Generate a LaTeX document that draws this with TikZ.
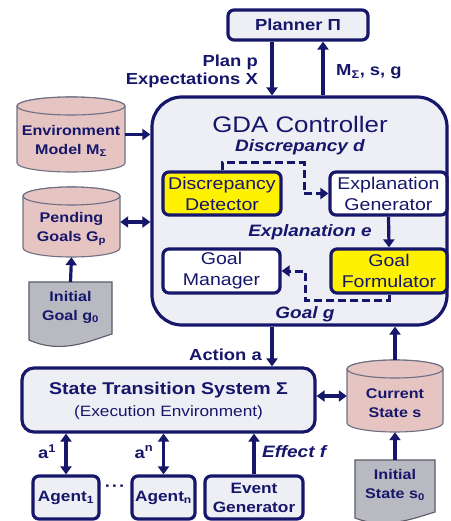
\documentclass[tikz,border=0pt]{standalone}
\usepackage{fontspec}
\setmainfont{Liberation Sans}[FakeStretch=1.15]
\usetikzlibrary{arrows.meta,calc}
\definecolor{navy}{HTML}{16166A}
\definecolor{boxfill}{HTML}{EEEFF5}
\definecolor{yell}{HTML}{FFF200}
\definecolor{pink}{HTML}{E6C4C1}
\definecolor{cylborder}{HTML}{6E6E84}
\definecolor{docfill}{HTML}{B9B9C2}
\definecolor{docborder}{HTML}{5A5A6A}
\tikzset{
  box/.style={draw=navy, line width=3.2pt, fill=boxfill, rounded corners=6pt, text=navy, align=center, inner sep=0pt},
  ybox/.style={box, fill=yell, font=\fontsize{17}{21}\selectfont},
  wbox/.style={box, fill=white, font=\fontsize{17}{21}\selectfont},
  lbl/.style={text=navy, font=\fontsize{16}{19}\selectfont\bfseries, inner sep=0pt},
  ilbl/.style={text=navy, font=\fontsize{16.5}{19}\selectfont\bfseries\itshape, inner sep=0pt},
  cylarea/.style={inner sep=0pt},
  cylstyle/.style={draw=cylborder, line width=1.1pt, fill=pink},
  dtext/.style={text=navy, align=center, font=\fontsize{14}{19}\selectfont\bfseries, inner sep=0pt},
  docshape/.style={draw=docborder, line width=1.1pt, fill=docfill},
  arr/.style={draw=navy, line width=3.2pt, -{Triangle[width=11pt,length=8pt]}},
  darr/.style={draw=navy, line width=3.2pt, {Triangle[width=11pt,length=8pt]}-{Triangle[width=11pt,length=8pt]}},
  dasharr/.style={draw=navy, line width=3pt, dash pattern=on 8pt off 4pt, -{Triangle[width=11pt,length=8pt]}},
}
\newcommand{\drawcyl}[5]{%
  \pgfmathsetmacro\cylcx{(#1+#3)/2}%
  \pgfmathsetmacro\cylrx{(#3-#1)/2}%
  \path[cylstyle] (#1,#2+#5) -- (#1,#4-#5) arc[start angle=180,end angle=0,x radius=\cylrx,y radius=#5] -- (#3,#2+#5) arc[start angle=0,end angle=-180,x radius=\cylrx,y radius=#5] -- cycle;
  \path[cylstyle] (\cylcx,#2+#5) ellipse[x radius=\cylrx, y radius=#5];
}
\begin{document}
\begin{tikzpicture}[x=1pt,y=-1pt]
\useasboundingbox (0,0) rectangle (450,521);
% Planner
\node[box, minimum width=140pt, minimum height=30pt, font=\fontsize{16}{19}\selectfont\bfseries] (planner) at (298,25) {Planner Π};
% Controller
\node[box, rounded corners=30pt, minimum width=295pt, minimum height=228pt] (ctrl) at (299.5,211) {};
\node[text=navy, font=\fontsize{22.5}{26}\selectfont, inner sep=0pt] (title) at (300,124) {GDA Controller};
\node[ilbl] (discd) at (300,147) {Discrepancy d};
\node[ybox, minimum width=118pt, minimum height=43pt] (dd) at (222,193.5) {Discrepancy\\Detector};
\node[wbox, minimum width=117pt, minimum height=43pt] (exg) at (388.5,193.5) {Explanation\\Generator};
\node[ilbl] (expe) at (310,232) {Explanation e};
\node[wbox, minimum width=117pt, minimum height=44pt] (gm) at (221.5,271) {Goal\\Manager};
\node[ybox, minimum width=116pt, minimum height=44pt] (gf) at (389,271) {Goal\\Formulator};
\node[ilbl] (goalg) at (305,314) {Goal g};
% Left cylinders
\drawcyl{17}{97}{125}{172}{9}
\node[cylarea, minimum width=108pt, minimum height=75pt] (env) at (71,134.5) {};
\node[dtext] (envt) at (71,141) {Environment\\Model M\textsubscript{Σ}};
\drawcyl{23}{187}{120}{257}{9}
\node[cylarea, minimum width=97pt, minimum height=70pt] (pend) at (71.5,222) {};
\node[dtext] (pendt) at (71.5,229) {Pending\\Goals G\textsubscript{p}};
% Initial goal document
\path[docshape] (29,282) -- (112,282) -- (112,334) .. controls (92,340) and (62,355) .. (29,340) -- cycle;
\node[dtext] (ig) at (70.5,307) {Initial\\Goal g\textsubscript{0}};
\coordinate (igtop) at (70.5,282);
% STS
\node[box, rounded corners=12pt, minimum width=293pt, minimum height=64pt] (sts) at (168.5,400) {};
\node[text=navy, font=\fontsize{17}{20}\selectfont\bfseries, inner sep=0pt] (stst) at (168.5,390) {State Transition System Σ};
\node[text=navy, font=\fontsize{15}{18}\selectfont, inner sep=0pt] (stse) at (168.5,413) {(Execution Environment)};
% Current state
\drawcyl{347}{360}{443}{432}{9}
\node[cylarea, minimum width=96pt, minimum height=72pt] (cs) at (395,396) {};
\node[dtext] (cst) at (395,403) {Current\\State s};
% Initial state doc
\path[docshape] (355,460) -- (435,460) -- (435,512) .. controls (415,518) and (385,530) .. (355,518) -- cycle;
\node[dtext] (is) at (395,485) {Initial\\State s\textsubscript{0}};
\coordinate (istop) at (395,460);
% Agents
\node[box, minimum width=66pt, minimum height=43pt, font=\fontsize{15}{18}\selectfont\bfseries] (a1) at (66,497.5) {Agent\textsubscript{1}};
\node[box, minimum width=63pt, minimum height=43pt, font=\fontsize{15}{18}\selectfont\bfseries] (an) at (163.5,497.5) {Agent\textsubscript{n}};
\node[box, minimum width=98pt, minimum height=43pt, font=\fontsize{15}{19}\selectfont\bfseries] (evg) at (254,497.5) {Event\\Generator};
\node[lbl] (dots) at (115,488) {·\kern1pt·\kern1pt·};
% Labels
\node[lbl, anchor=east] (planp) at (258,62) {Plan p};
\node[lbl, anchor=east] (expx) at (258,80) {Expectations X};
\node[lbl, anchor=west] (msg) at (336,72) {M\textsubscript{Σ}, s, g};
\node[lbl, anchor=east] (acta) at (262,355) {Action a};
\node[lbl] (lab1) at (47,452) {a\textsuperscript{1}};
\node[lbl] (labn) at (144,452) {a\textsuperscript{n}};
\node[ilbl, anchor=west] (efff) at (262,452) {Effect f};
% Connectors
\draw[arr] ([xshift=-26pt]planner.south) -- ([xshift=-26pt]planner.south |- ctrl.north);
\draw[arr] ([xshift=25pt]planner.south |- ctrl.north) -- ([xshift=25pt]planner.south);
\draw[arr] (env.east) -- (env.east -| ctrl.west);
\draw[darr] (pend.east) -- (pend.east -| ctrl.west);
\draw[arr] (igtop) -- (pend.south);
\draw[arr] ([xshift=-27.5pt]ctrl.south) -- ([xshift=-27.5pt]ctrl.south |- sts.north);
\draw[arr] (cs.north) -- (cs.north |- ctrl.south);
\draw[darr] (sts.east |- cs.center) -- (cs.west);
\draw[arr] (istop) -- (cs.south);
\draw[darr] (a1.north) -- (a1.north |- sts.south);
\draw[darr] (an.north) -- (an.north |- sts.south);
\draw[arr] (evg.north) -- (evg.north |- sts.south);
\coordinate (d1) at (304,163);
\draw[dasharr] (dd.north) |- (d1) |- (exg.west);
\draw[arr] (exg.south) -- (gf.north);
\coordinate (g1) at (305,300);
\draw[dasharr] (gf.south) |- (g1) |- (gm.east);
\end{tikzpicture}
\end{document}
